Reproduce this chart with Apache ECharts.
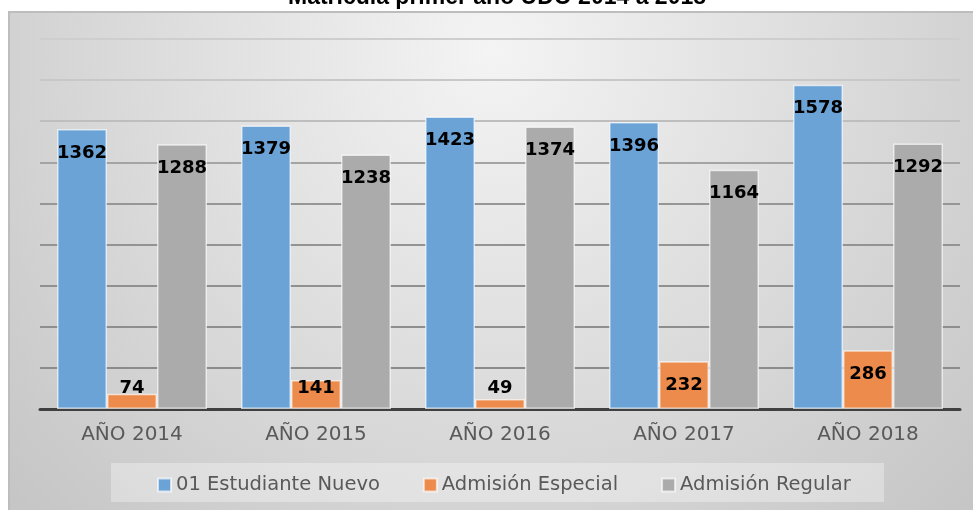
<!DOCTYPE html>
<html>
<head>
<meta charset="utf-8">
<script src="https://cdn.jsdelivr.net/npm/echarts@6/dist/echarts.min.js"></script>
<style>
html,body{margin:0;padding:0;background:#ffffff;}
#chart{width:973px;height:510px;}
</style>
</head>
<body>
<div id="chart"></div>
<script>
const titleText = 'Matrícula primer año UDO 2014 a 2018';
const categories = ['AÑO 2014', 'AÑO 2015', 'AÑO 2016', 'AÑO 2017', 'AÑO 2018'];
const seriesNames = ['01 Estudiante Nuevo', 'Admisión Especial', 'Admisión Regular'];
const estudianteNuevo = [1362, 1379, 1423, 1396, 1578];
const admisionEspecial = [74, 141, 49, 232, 286];
const admisionRegular = [1288, 1238, 1374, 1164, 1292];
const seriesColors = ['#6CA3D7', '#EC8B4B', '#ABABAB'];

const chart = echarts.init(document.getElementById('chart'), null, {renderer: 'canvas'});

function makeData(values) {
  return values.map(function (v) {
    if (v < 220) {
      return {value: v, label: {position: 'insideBottom', distance: 12}};
    }
    return v;
  });
}

const labelStyle = {
  show: true,
  position: 'insideTop',
  distance: 15,
  fontFamily: 'DejaVu Sans',
  fontWeight: 'bold',
  fontSize: 18,
  color: '#000000'
};

const allValues = [estudianteNuevo, admisionEspecial, admisionRegular];

const option = {
  animation: false,
  backgroundColor: '#ffffff',
  graphic: [
    {
      type: 'rect',
      z: -10,
      silent: true,
      shape: {x: 9, y: 12, width: 966, height: 500},
      style: {
        fill: {
          type: 'radial', x: 0.5, y: 0.08, r: 1.3,
          colorStops: [
            {offset: 0, color: '#f4f4f4'},
            {offset: 0.5, color: '#dddddd'},
            {offset: 1, color: '#c6c6c6'}
          ]
        },
        stroke: '#bdbdbd',
        lineWidth: 2
      }
    },
    {
      type: 'rect',
      z: -9,
      silent: true,
      shape: {x: 111, y: 463, width: 773, height: 39},
      style: {fill: 'rgba(255,255,255,0.32)'}
    },
    {
      type: 'text',
      z: 10,
      silent: true,
      x: 497,
      y: -14,
      style: {
        text: titleText,
        align: 'center',
        verticalAlign: 'top',
        font: 'bold 23px "Liberation Sans"',
        fill: '#000000'
      }
    }
  ],
  legend: {
    data: seriesNames,
    left: 157,
    top: 475,
    padding: 0,
    itemWidth: 13,
    itemHeight: 13,
    itemGap: 43,
    icon: 'rect',
    textStyle: {
      fontFamily: 'DejaVu Sans',
      fontSize: 19.5,
      color: '#595959'
    }
  },
  grid: {left: 40, right: 13, top: 39, bottom: 101, containLabel: false},
  xAxis: {
    type: 'category',
    data: categories,
    axisTick: {show: false},
    axisLine: {show: true, lineStyle: {color: '#404040', width: 3}},
    axisLabel: {
      margin: 16,
      fontFamily: 'DejaVu Sans',
      fontSize: 20,
      color: '#595959'
    }
  },
  yAxis: {
    type: 'value',
    min: 0,
    max: 1800,
    interval: 200,
    axisLabel: {show: false},
    axisLine: {show: false},
    axisTick: {show: false},
    splitLine: {
      show: true,
      lineStyle: {
        width: 2,
        color: ['#8a8a8a', '#8b8b8b', '#8e8e8e', '#909090', '#939393', '#969696', '#a4a4a4', '#bebebe', '#c8c8c8', '#cecece']
      }
    }
  },
  series: seriesNames.map(function (name, i) {
    return {
      name: name,
      type: 'bar',
      barWidth: 50,
      barGap: '0%',
      data: makeData(allValues[i]),
      itemStyle: {
        color: seriesColors[i],
        borderColor: 'rgba(255,255,255,0.65)',
        borderWidth: 1.5
      },
      label: labelStyle
    };
  })
};

chart.setOption(option);
</script>
</body>
</html>
